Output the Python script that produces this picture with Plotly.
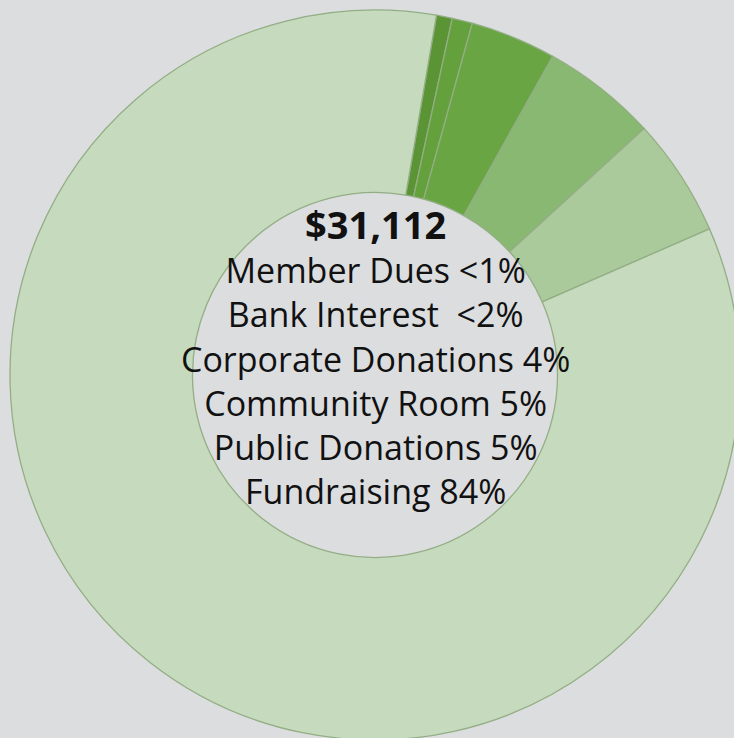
import plotly.graph_objects as go

categories = ["Member Dues", "Bank Interest", "Corporate Donations",
              "Community Room", "Public Donations", "Fundraising"]
shares = [0.7, 0.9, 3.8, 5.1, 5.25, 84.25]
label_text = ["<1%", " <2%", "4%", "5%", "5%", "84%"]
total_label = "$31,112"

colors = ["#5b9434", "#64a03c", "#6aa544", "#89b872", "#aaca9c", "#c6dabd"]
bg = "#dcdddf"

W, H = 760, 760
cx, cy, R = 375, 375, 365

lines = [f'<span style="font-size:38px"><b>{total_label}</b></span>']
for c, t in zip(categories, label_text):
    lines.append(f"{c} {t}")

fig = go.Figure(go.Pie(
    labels=categories,
    values=shares,
    sort=False,
    direction="clockwise",
    rotation=9.7,
    hole=0.5,
    textinfo="none",
    hoverinfo="label+percent",
    marker=dict(colors=colors, line=dict(color="#93ae85", width=1.3)),
    domain=dict(x=[(cx - R) / W, (cx + R) / W],
                y=[(H - cy - R) / H, (H - cy + R) / H]),
    showlegend=False,
))

fig.add_annotation(
    x=cx / W, y=1 - 356 / H, xref="paper", yref="paper",
    text="<br>".join(lines), showarrow=False,
    font=dict(family="Open Sans", size=34, color="#111111"),
    align="center",
)

fig.update_layout(
    width=W, height=H,
    margin=dict(l=0, r=0, t=0, b=0),
    paper_bgcolor=bg, plot_bgcolor=bg,
)

fig.write_html(
    "out.html",
    config=dict(displayModeBar=False),
    post_script=("document.body.style.margin='0';"
                 "document.body.style.overflow='hidden';"
                 "document.body.style.background='" + bg + "';"),
)
